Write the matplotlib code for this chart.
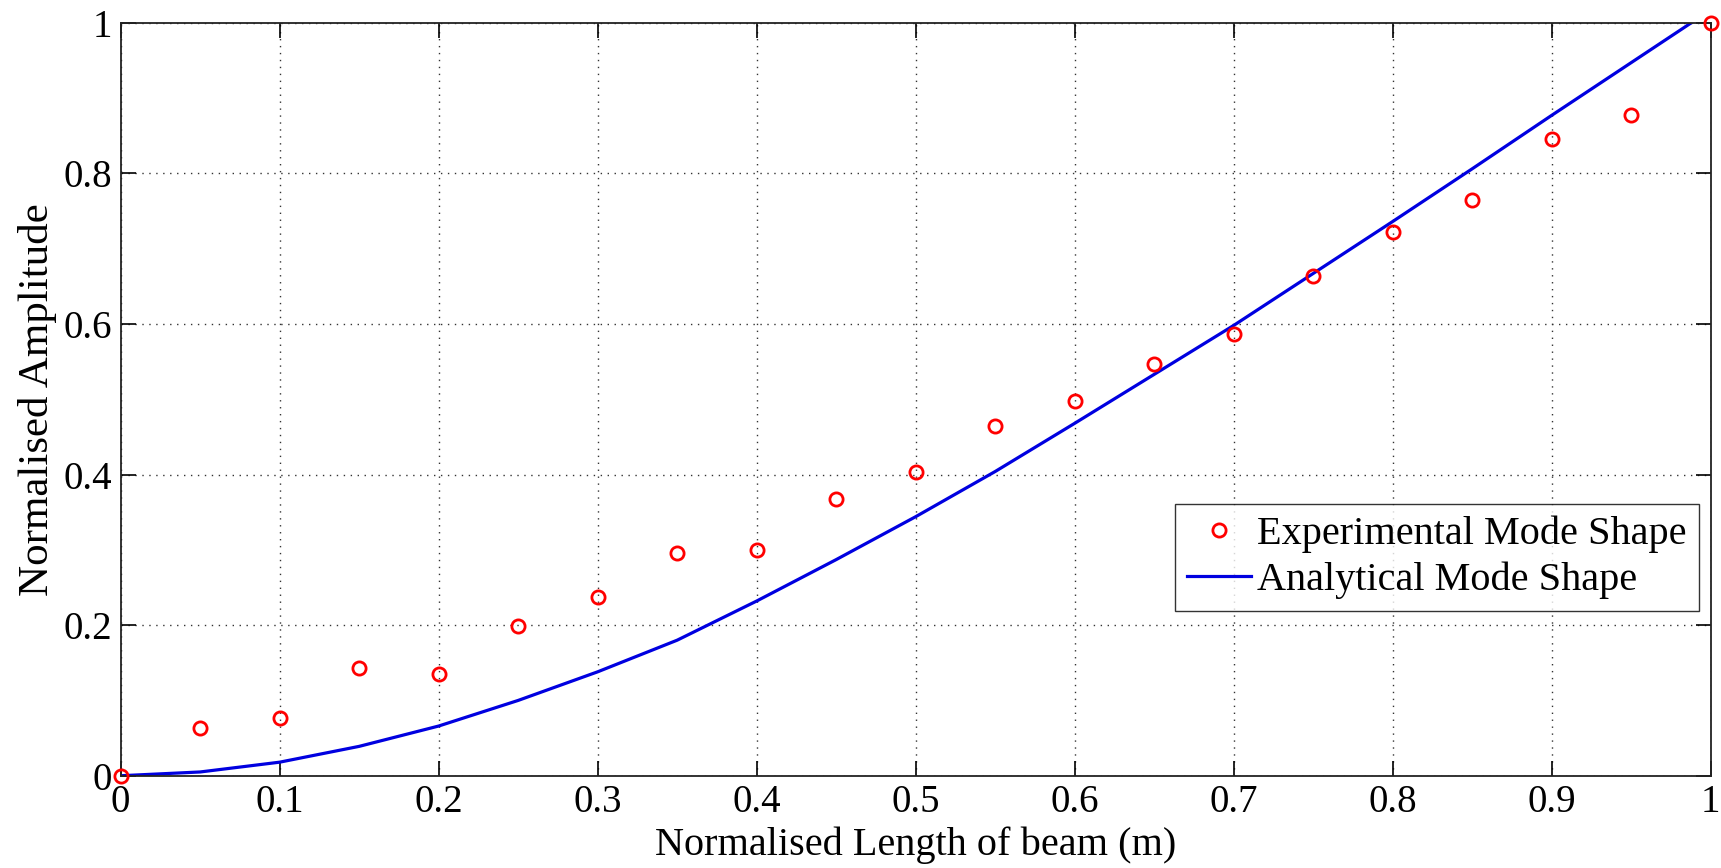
import matplotlib.pyplot as plt
from matplotlib.ticker import FuncFormatter

# positions along the beam (normalised)
x_exp = [0, 0.05, 0.1, 0.15, 0.2, 0.25, 0.3, 0.35, 0.4, 0.45, 0.5,
         0.55, 0.6, 0.65, 0.7, 0.75, 0.8, 0.85, 0.9, 0.95, 1.0]
# measured mode shape
y_exp = [0, 0.064, 0.077, 0.143, 0.135, 0.199, 0.238, 0.296, 0.300, 0.368, 0.404,
         0.465, 0.498, 0.547, 0.587, 0.663, 0.722, 0.765, 0.846, 0.878, 1.0]

# analytical curve
x_ana = [0, 0.05, 0.1, 0.15, 0.2, 0.25, 0.3, 0.35, 0.4, 0.45, 0.5,
         0.55, 0.6, 0.65, 0.7, 0.75, 0.8, 0.85, 0.9, 0.95, 1.0]
y_ana = [0, 0.005, 0.018, 0.039, 0.066, 0.100, 0.138, 0.180, 0.232, 0.287, 0.344,
         0.404, 0.468, 0.533, 0.598, 0.667, 0.736, 0.806, 0.877, 0.947, 1.017]

x_ticks = [0, 0.1, 0.2, 0.3, 0.4, 0.5, 0.6, 0.7, 0.8, 0.9, 1]
y_ticks = [0, 0.2, 0.4, 0.6, 0.8, 1]

plt.rcParams["font.family"] = ["Liberation Serif", "DejaVu Serif"]

fig = plt.figure(figsize=(17.21, 8.68), dpi=100)
ax = fig.add_axes([0.0701, 0.1063, 0.994 - 0.0701, 0.9738 - 0.1063])

ax.plot(x_exp, y_exp, "o", color="red", markerfacecolor="none",
        markersize=9.5, markeredgewidth=2.0, label="Experimental Mode Shape",
        clip_on=False, zorder=4)
ax.plot(x_ana, y_ana, "-", color="#0000e0", linewidth=2.3, label="Analytical Mode Shape")

ax.set_xlim(0, 1)
ax.set_ylim(0, 1)
ax.set_xticks(x_ticks)
ax.set_yticks(y_ticks)
fmt = FuncFormatter(lambda v, p: "%g" % v)
ax.xaxis.set_major_formatter(fmt)
ax.yaxis.set_major_formatter(fmt)

ax.tick_params(direction="in", length=11, width=1.2, top=True, right=True,
               labelsize=28, pad=6)
ax.grid(True, linestyle=(0, (1, 4)), color="#333333", linewidth=1.0)
for s in ax.spines.values():
    s.set_linewidth(1.3)
    s.set_color("#222222")

ax.set_xlabel("Normalised Length of beam (m)", fontsize=29, labelpad=4)
ax.set_ylabel("Normalised Amplitude", fontsize=31, labelpad=5)

leg = ax.legend(loc="lower right", bbox_to_anchor=(0.9927, 0.219), fontsize=29,
                frameon=True, fancybox=False, edgecolor="black",
                handlelength=1.6, handletextpad=0.15, borderpad=0.3,
                labelspacing=0.2, borderaxespad=0)
leg.get_frame().set_linewidth(1.0)

fig.savefig("out.png", dpi=100)
